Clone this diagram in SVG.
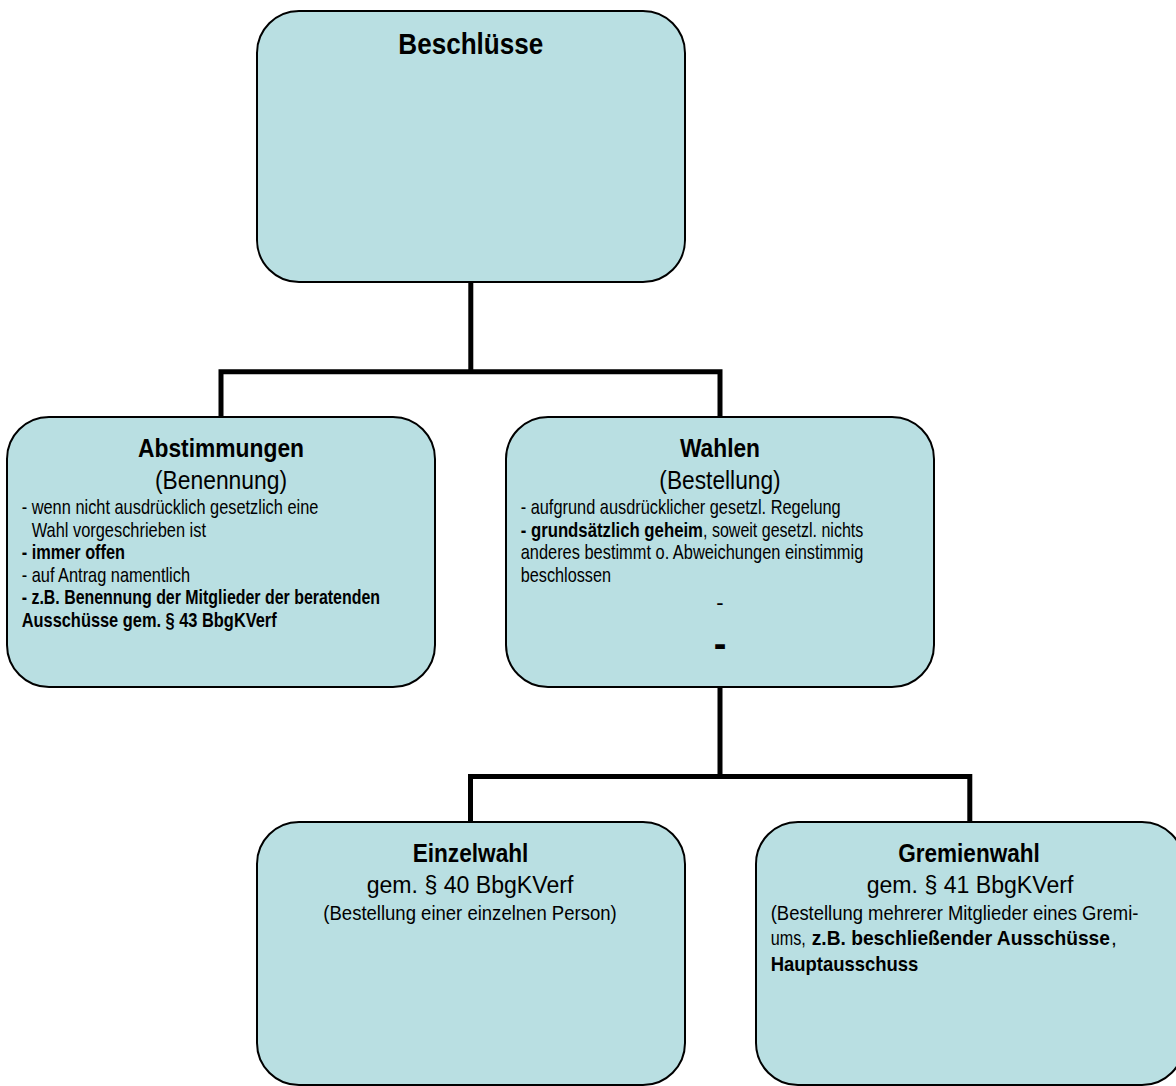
<svg xmlns="http://www.w3.org/2000/svg" width="1176" height="1086" viewBox="0 0 1176 1086">
<style>
  .box { fill: #B9DFE2; stroke: #000; stroke-width: 2; }
  .conn { fill: none; stroke: #000; stroke-width: 5; stroke-linejoin: miter; stroke-linecap: butt; }
  text { font-family: "Liberation Sans", Arial, sans-serif; fill: #000; }
  .h { font-weight: bold; font-size: 25.5px; text-anchor: middle; }
  .sub { font-size: 25.5px; text-anchor: middle; }
  .gem { font-size: 23px; text-anchor: middle; }
  .b { font-size: 21px; }
  .bb { font-size: 21px; font-weight: bold; }
  .c { font-size: 21px; text-anchor: middle; }
</style>
<rect width="1176" height="1086" fill="#fff"/>
<g id="connectors">
  <path class="conn" d="M470.8,282 V371.8 M221,417 V371.8 H720 V417"/>
  <path class="conn" d="M720,687 V776.5 M470.5,822 V776.5 H969.8 V822"/>
</g>
<g id="beschluesse">
  <rect class="box" x="257" y="11" width="428" height="271" rx="42"/>
  <text x="470.8" y="54" class="h" style="font-size:29px" textLength="145" lengthAdjust="spacingAndGlyphs">Beschlüsse</text>
</g>
<g id="abstimmungen">
  <rect class="box" x="7" y="417" width="428" height="270" rx="42"/>
  <text x="221" y="456.7" class="h" textLength="166" lengthAdjust="spacingAndGlyphs">Abstimmungen</text>
  <text x="221" y="489" class="sub" textLength="132" lengthAdjust="spacingAndGlyphs">(Benennung)</text>
  <text x="21.7" y="514" class="b" textLength="296.7" lengthAdjust="spacingAndGlyphs">- wenn nicht ausdrücklich gesetzlich eine</text>
  <text x="31.7" y="536.7" class="b" textLength="174.3" lengthAdjust="spacingAndGlyphs">Wahl vorgeschrieben ist</text>
  <text x="21.7" y="559" class="bb" textLength="103.3" lengthAdjust="spacingAndGlyphs">- immer offen</text>
  <text x="21.7" y="581.7" class="b" textLength="168.3" lengthAdjust="spacingAndGlyphs">- auf Antrag namentlich</text>
  <text x="21.7" y="604.3" class="bb" textLength="358.3" lengthAdjust="spacingAndGlyphs">- z.B. Benennung der Mitglieder der beratenden</text>
  <text x="21.7" y="627.3" class="bb" textLength="255" lengthAdjust="spacingAndGlyphs">Ausschüsse gem. § 43 BbgKVerf</text>
</g>
<g id="wahlen">
  <rect class="box" x="506" y="417" width="428" height="270" rx="42"/>
  <text x="720" y="456.7" class="h" textLength="80" lengthAdjust="spacingAndGlyphs">Wahlen</text>
  <text x="720" y="489" class="sub" textLength="121.3" lengthAdjust="spacingAndGlyphs">(Bestellung)</text>
  <text x="520.7" y="514" class="b" textLength="320" lengthAdjust="spacingAndGlyphs">- aufgrund ausdrücklicher gesetzl. Regelung</text>
  <text transform="translate(520.7,536.7) scale(0.797,1)" class="bb" textLength="228.7" lengthAdjust="spacingAndGlyphs">- grundsätzlich geheim</text>
  <text transform="translate(703,536.7) scale(0.763,1)" class="b" textLength="210.1" lengthAdjust="spacingAndGlyphs">, soweit gesetzl. nichts</text>
  <text x="520.7" y="559" class="b" textLength="342.6" lengthAdjust="spacingAndGlyphs">anderes bestimmt o. Abweichungen einstimmig</text>
  <text x="520.7" y="581.7" class="b" textLength="90.3" lengthAdjust="spacingAndGlyphs">beschlossen</text>
  <text x="720" y="609.5" class="c" style="font-size:22px">-</text>
  <text x="720" y="657" class="c" style="font-size:38px;font-weight:bold">-</text>
</g>
<g id="einzelwahl">
  <rect class="box" x="257" y="822" width="428" height="263" rx="42"/>
  <text x="470.5" y="861.7" class="h" textLength="115.7" lengthAdjust="spacingAndGlyphs">Einzelwahl</text>
  <text x="470" y="893.3" class="gem" textLength="206.7" lengthAdjust="spacingAndGlyphs">gem. § 40 BbgKVerf</text>
  <text x="470" y="920" class="c" textLength="293.3" lengthAdjust="spacingAndGlyphs">(Bestellung einer einzelnen Person)</text>
</g>
<g id="gremienwahl">
  <rect class="box" x="756" y="822" width="428" height="263" rx="42"/>
  <text x="969" y="861.7" class="h" textLength="141.7" lengthAdjust="spacingAndGlyphs">Gremienwahl</text>
  <text x="970" y="893.3" class="gem" textLength="206.7" lengthAdjust="spacingAndGlyphs">gem. § 41 BbgKVerf</text>
  <text transform="translate(770.7,919.5) scale(0.878,1)" class="b" textLength="418.8" lengthAdjust="spacingAndGlyphs">(Bestellung mehrerer Mitglieder eines Gremi-</text>
  <text transform="translate(770.7,945) scale(0.77,1)" class="b" textLength="45.5" lengthAdjust="spacingAndGlyphs">ums,</text>
  <text transform="translate(811.7,945) scale(0.913,1)" class="bb" textLength="326.7" lengthAdjust="spacingAndGlyphs">z.B. beschließender Ausschüsse</text>
  <text x="1111" y="945" class="b">,</text>
  <text x="770.7" y="971" class="bb" textLength="147.7" lengthAdjust="spacingAndGlyphs">Hauptausschuss</text>
</g>
</svg>
